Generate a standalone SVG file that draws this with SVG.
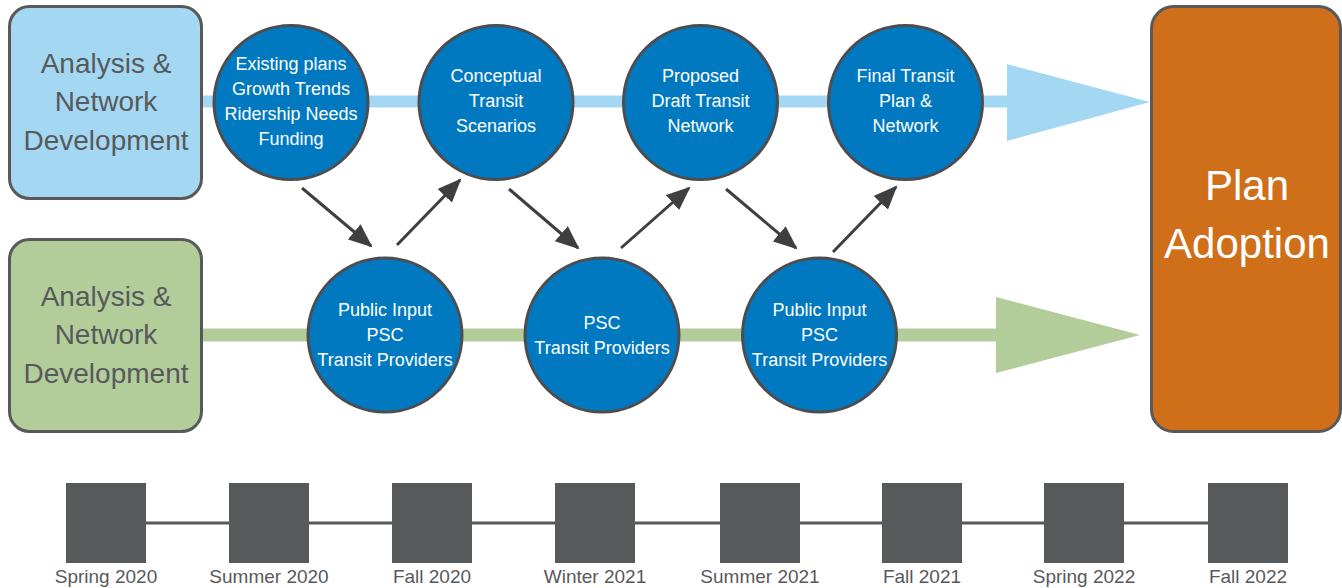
<svg xmlns="http://www.w3.org/2000/svg" width="1342" height="588" viewBox="0 0 1342 588">
  <style>
    .box { stroke: #58595B; stroke-width: 3; }
    .boxtext { font-family: "Liberation Sans", Arial, sans-serif; font-size: 28px; fill: #58595B; text-anchor: middle; }
    .circ { fill: #0079C1; stroke: #4D4D4F; stroke-width: 3; }
    .ctext { font-family: "Liberation Sans", Arial, sans-serif; font-size: 18px; fill: #FFFFFF; text-anchor: middle; }
    .arrow { stroke: #3F3F3F; stroke-width: 3; fill: none; marker-end: url(#ah); }
    .sq { fill: #58595B; }
    .tl { font-family: "Liberation Sans", Arial, sans-serif; font-size: 19px; fill: #58595B; text-anchor: middle; }
  </style>
  <defs>
    <marker id="ah" viewBox="0 0 24 20" refX="22" refY="10" markerWidth="24" markerHeight="20" markerUnits="userSpaceOnUse" orient="auto">
      <path d="M0,0 L24,10 L0,20 z" fill="#3F3F3F"/>
    </marker>
  </defs>
  <rect width="1342" height="588" fill="#FFFFFF"/>

  <!-- swimlane bars and big arrowheads -->
  <g id="lanes">
    <rect x="200" y="95.5" width="810" height="12" fill="#A4D8F2"/>
    <polygon points="1007,64 1150,102 1007,141" fill="#A4D8F2"/>
    <rect x="200" y="328.5" width="800" height="13" fill="#B3CD9A"/>
    <polygon points="996,297 1140,335 996,373" fill="#B3CD9A"/>
  </g>

  <g id="box-analysis-blue">
    <rect class="box" x="9.5" y="6.5" width="192" height="192" rx="20" fill="#A4D8F2"/>
    <text class="boxtext" x="106" y="73">Analysis &amp;</text>
    <text class="boxtext" x="106" y="111">Network</text>
    <text class="boxtext" x="106" y="150">Development</text>
  </g>

  <g id="box-analysis-green">
    <rect class="box" x="9.5" y="239.5" width="192" height="192" rx="20" fill="#B3CD9A"/>
    <text class="boxtext" x="106" y="306">Analysis &amp;</text>
    <text class="boxtext" x="106" y="344">Network</text>
    <text class="boxtext" x="106" y="383">Development</text>
  </g>

  <g id="box-plan-adoption">
    <rect class="box" x="1151.5" y="6.5" width="189" height="425" rx="22" fill="#D06F1A"/>
    <text x="1247" y="200" font-family="Liberation Sans, Arial, sans-serif" font-size="42" fill="#FFFFFF" text-anchor="middle">Plan</text>
    <text x="1247" y="258" font-family="Liberation Sans, Arial, sans-serif" font-size="42" fill="#FFFFFF" text-anchor="middle">Adoption</text>
  </g>

  <g id="node-existing">
    <circle class="circ" cx="291" cy="102.5" r="77"/>
    <text class="ctext" x="291" y="70">Existing plans</text>
    <text class="ctext" x="291" y="95">Growth Trends</text>
    <text class="ctext" x="291" y="120">Ridership Needs</text>
    <text class="ctext" x="291" y="145">Funding</text>
  </g>

  <g id="node-conceptual">
    <circle class="circ" cx="496" cy="102.5" r="77"/>
    <text class="ctext" x="496" y="82">Conceptual</text>
    <text class="ctext" x="496" y="107">Transit</text>
    <text class="ctext" x="496" y="132">Scenarios</text>
  </g>

  <g id="node-proposed">
    <circle class="circ" cx="700.5" cy="102.5" r="77"/>
    <text class="ctext" x="700.5" y="82">Proposed</text>
    <text class="ctext" x="700.5" y="107">Draft Transit</text>
    <text class="ctext" x="700.5" y="132">Network</text>
  </g>

  <g id="node-final">
    <circle class="circ" cx="905.5" cy="102.5" r="77"/>
    <text class="ctext" x="905.5" y="82">Final Transit</text>
    <text class="ctext" x="905.5" y="107">Plan &amp;</text>
    <text class="ctext" x="905.5" y="132">Network</text>
  </g>

  <g id="node-input1">
    <circle class="circ" cx="385" cy="335" r="77"/>
    <text class="ctext" x="385" y="316">Public Input</text>
    <text class="ctext" x="385" y="341">PSC</text>
    <text class="ctext" x="385" y="366">Transit Providers</text>
  </g>

  <g id="node-psc">
    <circle class="circ" cx="602" cy="335" r="77"/>
    <text class="ctext" x="602" y="329">PSC</text>
    <text class="ctext" x="602" y="354">Transit Providers</text>
  </g>

  <g id="node-input2">
    <circle class="circ" cx="819.5" cy="335" r="77"/>
    <text class="ctext" x="819.5" y="316">Public Input</text>
    <text class="ctext" x="819.5" y="341">PSC</text>
    <text class="ctext" x="819.5" y="366">Transit Providers</text>
  </g>

  <g id="connectors">
    <line class="arrow" x1="302" y1="188" x2="371" y2="246"/>
    <line class="arrow" x1="397" y1="245" x2="460" y2="180"/>
    <line class="arrow" x1="509" y1="189" x2="578" y2="248"/>
    <line class="arrow" x1="621" y1="248" x2="689" y2="188"/>
    <line class="arrow" x1="726" y1="189" x2="796" y2="248"/>
    <line class="arrow" x1="833" y1="252" x2="896" y2="187"/>
  </g>

  <g id="timeline">
    <line x1="106" y1="523" x2="1248" y2="523" stroke="#58595B" stroke-width="3"/>
    <rect class="sq" x="66" y="483" width="80" height="80"/>
    <rect class="sq" x="229" y="483" width="80" height="80"/>
    <rect class="sq" x="392" y="483" width="80" height="80"/>
    <rect class="sq" x="555" y="483" width="80" height="80"/>
    <rect class="sq" x="720" y="483" width="80" height="80"/>
    <rect class="sq" x="882" y="483" width="80" height="80"/>
    <rect class="sq" x="1044" y="483" width="80" height="80"/>
    <rect class="sq" x="1208" y="483" width="80" height="80"/>
    <text class="tl" x="106" y="583">Spring 2020</text>
    <text class="tl" x="269" y="583">Summer 2020</text>
    <text class="tl" x="432" y="583">Fall 2020</text>
    <text class="tl" x="595" y="583">Winter 2021</text>
    <text class="tl" x="760" y="583">Summer 2021</text>
    <text class="tl" x="922" y="583">Fall 2021</text>
    <text class="tl" x="1084" y="583">Spring 2022</text>
    <text class="tl" x="1248" y="583">Fall 2022</text>
  </g>
</svg>
